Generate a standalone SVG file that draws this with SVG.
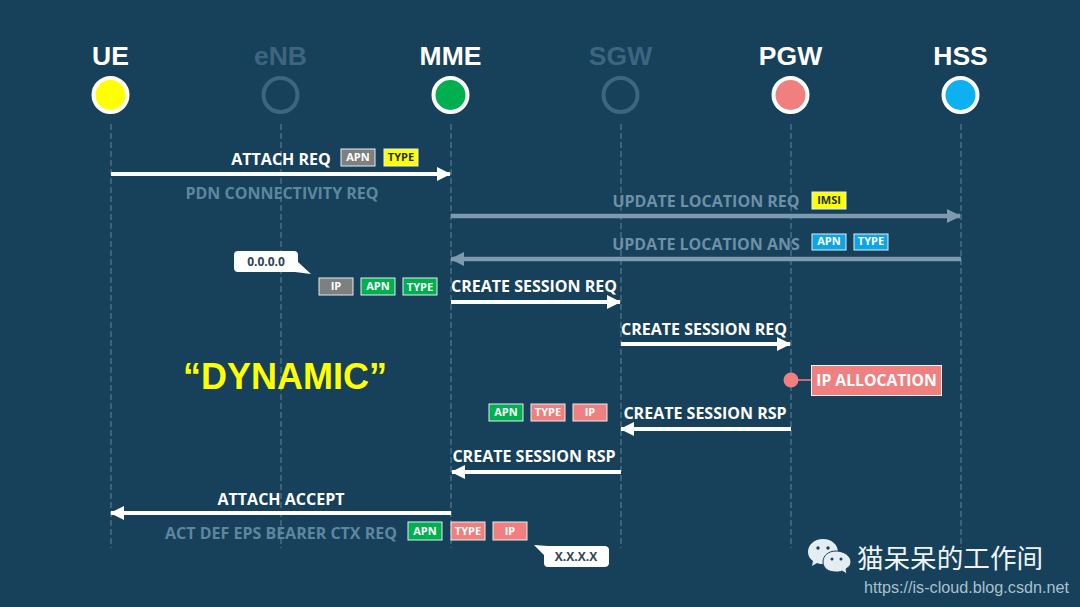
<svg xmlns="http://www.w3.org/2000/svg" width="1080" height="607" viewBox="0 0 1080 607">
<defs>
<style>
text{font-family:"Open Sans","Noto Sans",sans-serif;font-weight:700;text-anchor:middle}
.title{font-family:"Liberation Sans",Arial,sans-serif;font-size:26.500px;fill:#fff}
.dim{fill:#3d6580}
.life{stroke:#56798f;stroke-width:1.200;stroke-dasharray:6 3;fill:none}
.msg{font-size:16px;fill:#fff}
.mute{font-size:16px;fill:#5f86a0}
.mute2{font-size:16px;fill:#6e90a6}
.w{stroke:#fff;stroke-width:4;fill:none}
.g{stroke:#7c9bae;stroke-width:4.500;fill:none}
.tag{stroke:#e6edf0;stroke-width:1}
.tt{font-size:11px;fill:#fff}
.dk{font-size:11px;fill:#1d2f20}
.bub{font-size:12px;fill:#2b4656}
</style>
<marker id="aw" markerUnits="userSpaceOnUse" markerWidth="14" markerHeight="14" refX="13" refY="7" orient="auto-start-reverse"><path d="M0 0L14 7L0 14Z" fill="#fff"/></marker>
<marker id="ag" markerUnits="userSpaceOnUse" markerWidth="14" markerHeight="14" refX="13" refY="7" orient="auto-start-reverse"><path d="M0 0L14 7L0 14Z" fill="#7c9bae"/></marker>
</defs>
<rect width="1080" height="607" fill="#17405a"/>
<g id="lifelines">
<path class="life" d="M111 124V548M281 124V548M451 124V548M621 124V548M791 124V548M961 124V548"/>
</g>
<g id="node-ue"><text class="title" x="110.500" y="65">UE</text><circle cx="110.500" cy="95" r="17" fill="#ffff00" stroke="#fff" stroke-width="4"/></g>
<g id="node-enb"><text class="title dim" x="280.500" y="65">eNB</text><circle cx="280.500" cy="95" r="17" fill="none" stroke="#3d6580" stroke-width="4"/></g>
<g id="node-mme"><text class="title" x="450.500" y="65">MME</text><circle cx="450.500" cy="95" r="17" fill="#00b050" stroke="#fff" stroke-width="4"/></g>
<g id="node-sgw"><text class="title dim" x="620.500" y="65">SGW</text><circle cx="620.500" cy="95" r="17" fill="none" stroke="#3d6580" stroke-width="4"/></g>
<g id="node-pgw"><text class="title" x="790.500" y="65">PGW</text><circle cx="790.500" cy="95" r="17" fill="#f08080" stroke="#fff" stroke-width="4"/></g>
<g id="node-hss"><text class="title" x="960.500" y="65">HSS</text><circle cx="960.500" cy="95" r="17" fill="#0db0f0" stroke="#fff" stroke-width="4"/></g>
<g id="connectors">
<path class="w" marker-end="url(#aw)" d="M111 174H450"/>
<path class="g" marker-end="url(#ag)" d="M451 216H960"/>
<path class="g" marker-end="url(#ag)" d="M961 259H451"/>
<path class="w" marker-end="url(#aw)" d="M451 302H620"/>
<path class="w" marker-end="url(#aw)" d="M621 344H790"/>
<path class="w" marker-end="url(#aw)" d="M791 429H621"/>
<path class="w" marker-end="url(#aw)" d="M621 472H452"/>
<path class="w" marker-end="url(#aw)" d="M451 513H111"/>
<path d="M791 380H812" stroke="#f08080" stroke-width="1.500" fill="none"/>
</g>
<g id="labels">
<text class="msg" x="281" y="165">ATTACH REQ</text>
<text class="mute" x="282" y="199">PDN CONNECTIVITY REQ</text>
<text class="mute2" x="706" y="207">UPDATE LOCATION REQ</text>
<text class="mute2" x="706" y="250">UPDATE LOCATION ANS</text>
<text class="msg" x="534" y="292">CREATE SESSION REQ</text>
<text class="msg" x="704" y="335">CREATE SESSION REQ</text>
<text class="msg" x="705" y="419">CREATE SESSION RSP</text>
<text class="msg" x="534" y="462">CREATE SESSION RSP</text>
<text class="msg" x="281" y="505">ATTACH ACCEPT</text>
<text class="mute" x="281" y="539">ACT DEF EPS BEARER CTX REQ</text>
<text x="285" y="389" font-size="36" fill="#ffff00" style="font-family:'Liberation Sans',Arial,sans-serif">“DYNAMIC”</text>
</g>
<g id="tags">
<rect class="tag" x="341" y="149" width="34" height="17" fill="#7f7f7f"/><text class="tt" x="358" y="161">APN</text>
<rect class="tag" x="384" y="149" width="34" height="17" fill="#ffff00" stroke="#ffff00"/><text class="dk" x="401" y="161">TYPE</text>
<rect class="tag" x="812" y="192" width="34" height="17" fill="#ffff00" stroke="#ffff00"/><text class="dk" x="829" y="204">IMSI</text>
<rect class="tag" x="812" y="234" width="34" height="16" fill="#0da5e6"/><text class="tt" x="829" y="245">APN</text>
<rect class="tag" x="854" y="234" width="34" height="16" fill="#0da5e6"/><text class="tt" x="871" y="245">TYPE</text>
<rect class="tag" x="319" y="278" width="34" height="17" fill="#7f7f7f"/><text class="tt" x="336" y="290">IP</text>
<rect class="tag" x="361" y="278" width="34" height="17" fill="#00b050"/><text class="tt" x="378" y="290">APN</text>
<rect class="tag" x="403" y="278" width="34" height="17" fill="#00b050"/><text class="tt" x="420" y="291">TYPE</text>
<rect class="tag" x="489" y="404" width="34" height="17" fill="#00b050"/><text class="tt" x="506" y="416">APN</text>
<rect class="tag" x="531" y="404" width="34" height="17" fill="#f08080"/><text class="tt" x="548" y="416">TYPE</text>
<rect class="tag" x="573" y="404" width="34" height="17" fill="#f08080"/><text class="tt" x="590" y="416">IP</text>
<rect class="tag" x="408" y="522" width="34" height="18" fill="#00b050"/><text class="tt" x="425" y="535">APN</text>
<rect class="tag" x="451" y="522" width="34" height="18" fill="#f08080"/><text class="tt" x="468" y="535">TYPE</text>
<rect class="tag" x="493" y="522" width="34" height="18" fill="#f08080"/><text class="tt" x="510" y="535">IP</text>
</g>
<g id="ip-allocation">
<circle cx="791" cy="380" r="7.500" fill="#f08080"/>
<rect x="811.500" y="365.500" width="130" height="30" fill="#f08080" stroke="#f2f2f2" stroke-width="1"/>
<text x="876.500" y="386" font-size="15.700" fill="#fff">IP ALLOCATION</text>
</g>
<g id="bubble-zero">
<path d="M238 251H294Q298 251 298 255V262L311 274L295 272H238Q234 272 234 268V255Q234 251 238 251Z" fill="#fff"/>
<text class="bub" x="266" y="266">0.0.0.0</text>
</g>
<g id="bubble-x">
<path d="M534 545L548 546H604Q609 546 609 550V563Q609 567 604 567H548Q544 567 544 563V555Z" fill="#fff"/>
<text class="bub" x="576" y="561">X.X.X.X</text>
</g>
<g id="watermark">
<path d="M823 539C814 539 808 545 808 552C808 556 810 559 813 561L812 566L817 563C819 564 821 564 824 564C830 564 838 559 838 552C838 545 832 539 823 539Z" fill="#e4edf1"/>
<path d="M836 551C828 551 823 556 823 562C823 568 828 572 836 572C838 572 840 572 842 571L847 574L846 569C849 567 851 565 851 562C851 556 844 551 836 551Z" fill="#e4edf1" stroke="#17405a" stroke-width="1"/>
<circle cx="818" cy="548" r="1.700" fill="#17405a"/><circle cx="828" cy="548" r="1.700" fill="#17405a"/>
<circle cx="832" cy="559" r="1.500" fill="#17405a"/><circle cx="841" cy="559" r="1.500" fill="#17405a"/>
<text x="950" y="568" font-size="26.600" fill="#eef3f5" style="font-family:'Noto Sans CJK SC','Noto Sans',sans-serif;font-weight:400">猫呆呆的工作间</text>
<text x="966.500" y="593" font-size="16.200" fill="#a9c0cd" style="font-family:'Liberation Sans',Arial,sans-serif;font-weight:400">https://is-cloud.blog.csdn.net</text>
</g>
</svg>
